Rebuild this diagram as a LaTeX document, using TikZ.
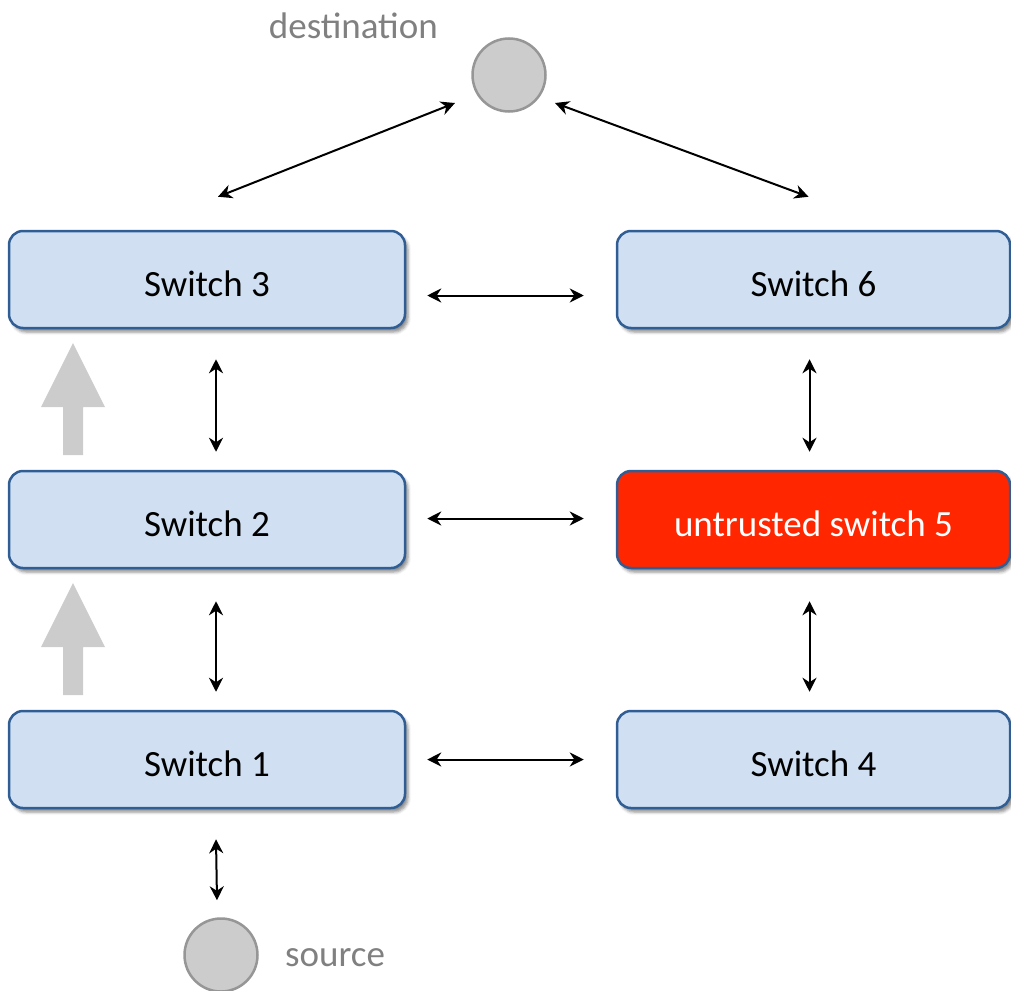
\documentclass[tikz,border=0pt]{standalone}
\usepackage{fontspec}
\setmainfont{Carlito}
\usetikzlibrary{arrows.meta,shadows.blur}

\definecolor{boxfill}{RGB}{208,224,242}
\definecolor{boxline}{RGB}{48,94,148}
\definecolor{alarm}{RGB}{255,38,0}
\definecolor{hostfill}{RGB}{204,204,204}
\definecolor{hostline}{RGB}{150,150,150}
\definecolor{labelgray}{RGB}{128,128,128}
\definecolor{flowgray}{RGB}{204,204,204}

\tikzset{
  switchbox/.style={draw=boxline, fill=boxfill, line width=2.5pt,
    rounded corners=14pt, minimum height=97pt, inner sep=0pt,
    text height=33pt, text depth=0pt,
    font=\fontsize{37}{44}\selectfont,
    blur shadow={shadow xshift=3pt, shadow yshift=-4pt,
      shadow blur radius=3pt, shadow opacity=45}},
  leftbox/.style={switchbox, minimum width=396pt},
  rightbox/.style={switchbox, minimum width=393pt},
  badbox/.style={fill=alarm, text=white},
  host/.style={circle, draw=hostline, fill=hostfill, line width=2.5pt,
    minimum size=73pt, inner sep=0pt},
  hostlabel/.style={text=labelgray, font=\fontsize{37}{44}\selectfont, inner sep=0pt},
  tip/.style={Stealth[length=14pt,width=14pt,inset=4.5pt]},
  link/.style={{Stealth[length=14pt,width=14pt,inset=4.5pt]}-{Stealth[length=14pt,width=14pt,inset=4.5pt]},
    line width=2pt, black},
  flow/.style={fill=flowgray, draw=none}
}

\begin{document}
\begin{tikzpicture}[x=1pt, y=-1pt]
\useasboundingbox (0,0) rectangle (1011,990);

% switches
\node[leftbox]  (s3) at (207,279.5) {Switch 3};
\node[leftbox]  (s2) at (207,519.5) {Switch 2};
\node[leftbox]  (s1) at (207,759.5) {Switch 1};
\node[rightbox] (s6) at (813.5,279.5) {Switch 6};
\node[rightbox, badbox] (s5) at (813.5,519.5) {untrusted switch 5};
\node[rightbox] (s4) at (813.5,759.5) {Switch 4};

% end hosts
\node[host] (dst) at (509,75) {};
\node[host] (src) at (221,955) {};
\node[hostlabel, anchor=east] (dstlabel) at (438,26) {destination};
\node[hostlabel, anchor=west] (srclabel) at (285,958) {source};

% links to the destination
\draw[link] ([xshift=11pt,yshift=33pt]s3.north) -- ([xshift=-54pt,yshift=-28pt]dst.center);
\draw[link] ([xshift=46pt,yshift=-28pt]dst.center) -- ([xshift=-5pt,yshift=33pt]s6.north);

% horizontal links
\draw[link] ([xshift=21pt,yshift=-16pt]s3.east) -- ([xshift=-32pt,yshift=-16pt]s6.west);
\draw[link] ([xshift=21pt,yshift=1pt]s2.east) -- ([xshift=-32pt,yshift=1pt]s5.west);
\draw[link] ([xshift=21pt]s1.east) -- ([xshift=-32pt]s4.west);

% vertical links, left column
\draw[link] ([xshift=9pt,yshift=-30pt]s3.south) -- ([xshift=9pt,yshift=18pt]s2.north);
\draw[link] ([xshift=9pt,yshift=-32pt]s2.south) -- ([xshift=9pt,yshift=18pt]s1.north);
\draw[link] ([xshift=9pt,yshift=-30pt]s1.south) -- ([xshift=-4pt,yshift=17pt]src.north);

% vertical links, right column
\draw[link] ([xshift=-4pt,yshift=-30pt]s6.south) -- ([xshift=-4pt,yshift=18pt]s5.north);
\draw[link] ([xshift=-4pt,yshift=-32pt]s5.south) -- ([xshift=-4pt,yshift=18pt]s4.north);

% forwarding direction
\fill[flow] (63,455) -- (63,407) -- (41,407) -- (73,343) -- (105,407) -- (83,407) -- (83,455) -- cycle;
\fill[flow] (63,695) -- (63,647) -- (41,647) -- (73,583) -- (105,647) -- (83,647) -- (83,695) -- cycle;
\end{tikzpicture}
\end{document}
